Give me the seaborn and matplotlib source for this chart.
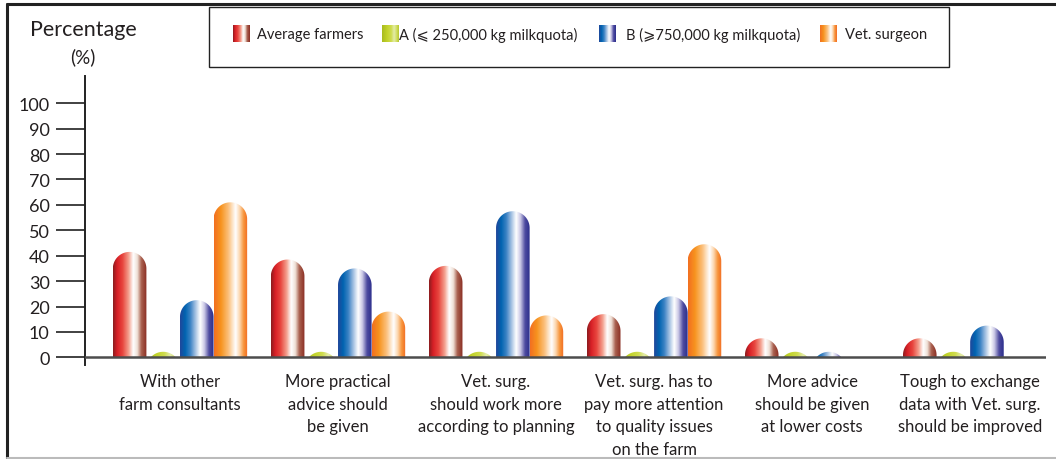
import numpy as np
import pandas as pd
import matplotlib
matplotlib.use("Agg")
import matplotlib.pyplot as plt
import seaborn as sns
from matplotlib.colors import LinearSegmentedColormap
from matplotlib.patches import PathPatch, Rectangle
from matplotlib.path import Path
from matplotlib.lines import Line2D
from matplotlib import font_manager

# ---- data -------------------------------------------------------------
categories = [
    "With other\nfarm consultants",
    "More practical\nadvice should\nbe given",
    "Vet. surg.\nshould work more\naccording to planning",
    "Vet. surg. has to\npay more attention\nto quality issues\non the farm",
    "More advice\nshould be given\nat lower costs",
    "Tough to exchange\ndata with Vet. surg.\nshould be improved",
]
groups = [
    "Average farmers",
    "A (\u2a7d 250,000 kg milkquota)",
    "B (\u2a7e750,000 kg milkquota)",
    "Vet. surgeon",
]
avg_farmers = [41.5, 38.5, 36, 17, 7.5, 7.5]
group_a = [2.2, 2.2, 2.2, 2.2, 2.2, 2.2]
group_b = [22.5, 35, 57.5, 24, 2.2, 12.5]
vet_surgeon = [61, 18, 16.5, 44.5, 0, 0]
y_ticks = list(range(0, 101, 10))

df = pd.DataFrame({
    "category": np.repeat(categories, len(groups)),
    "group": groups * len(categories),
    "value": np.ravel(np.column_stack([avg_farmers, group_a, group_b, vet_surgeon])),
})

# ---- cylinder-like gradients (left -> right) ----------------------------
gradients = {
    groups[0]: [(0.00, "#8b1d1f"), (0.12, "#d81f26"), (0.28, "#e8453e"), (0.46, "#f4a08e"),
                (0.60, "#ffffff"), (0.72, "#efe0d6"), (0.84, "#a9604f"), (1.00, "#8a2d22")],
    groups[1]: [(0.00, "#a8ba20"), (0.30, "#c2d32a"), (0.55, "#cfdc50"), (0.72, "#e4ecaa"),
                (0.88, "#cfdc5a"), (1.00, "#b5c52c")],
    groups[2]: [(0.00, "#21479b"), (0.15, "#0064b0"), (0.30, "#3b82c4"), (0.46, "#a9c4e4"),
                (0.60, "#ffffff"), (0.72, "#cbc9e6"), (0.86, "#4e4ba0"), (1.00, "#2b2e8c")],
    groups[3]: [(0.00, "#f26f21"), (0.20, "#f7931e"), (0.42, "#fbbf7a"), (0.64, "#ffffff"),
                (0.76, "#fcd7b0"), (0.88, "#f7943a"), (1.00, "#f26b22")],
}
cmaps = {g: LinearSegmentedColormap.from_list(g, stops) for g, stops in gradients.items()}


def strip(cmap, n=128):
    return cmap(np.linspace(0, 1, n))[None, :, :3]


# ---- fonts --------------------------------------------------------------
sns.set_theme(style="white")
installed = {f.name for f in font_manager.fontManager.ttflist}
narrow = "Liberation Sans Narrow" if "Liberation Sans Narrow" in installed else "Lato"
plt.rcParams["font.family"] = ["Lato", "DejaVu Sans"]
narrow_family = [narrow, "DejaVu Sans"]
text_color = "#231f20"

# ---- figure -------------------------------------------------------------
W, H = 1056, 460
fig = plt.figure(figsize=(W / 100, H / 100), dpi=100)
fig.patch.set_facecolor("white")

ax = fig.add_axes([85 / W, 1 - 366 / H, (1046 - 85) / W, (366 - 77) / H], zorder=2)
ax.set_facecolor("none")

sns.barplot(data=df, x="category", y="value", hue="group", order=categories,
            hue_order=groups, width=0.85, errorbar=None, legend=False,
            saturation=1, ax=ax)

XLIM = (-0.601, 5.48)
YLIM = (-3, 110.7)
ax.set_xlim(*XLIM)
ax.set_ylim(*YLIM)

p0, px, py = ax.transData.transform([(0, 0), (1, 0), (0, 1)])
ppu_x = px[0] - p0[0]
ppu_y = py[1] - p0[1]

# replace each flat bar by a gradient capsule with a rounded top
for g, container in zip(groups, ax.containers):
    for bar in container:
        bar.set_visible(False)
        x0, w, h = bar.get_x(), bar.get_width(), bar.get_height()
        if h <= 0:
            continue
        rx = w / 2
        ry = (w * ppu_x / 2) / ppu_y
        xc, cy = x0 + rx, h - ry
        bottom = min(0.0, cy) - 1
        t = np.linspace(np.pi, 0, 60)
        verts = [(x0, bottom), (x0, cy)]
        verts += list(zip(xc + rx * np.cos(t), cy + ry * np.sin(t)))
        verts += [(x0 + w, bottom), (x0, bottom)]
        codes = [Path.MOVETO] + [Path.LINETO] * (len(verts) - 2) + [Path.CLOSEPOLY]
        clip = PathPatch(Path(verts, codes), transform=ax.transData,
                         facecolor="none", edgecolor="none")
        im = ax.imshow(strip(cmaps[g]), extent=[x0, x0 + w, 0, h], aspect="auto",
                       interpolation="bilinear", zorder=2)
        im.set_clip_path(clip)

ax.set_xlim(*XLIM)
ax.set_ylim(*YLIM)
ax.set_autoscale_on(False)

ax.axhline(0, color="#4d4d4d", lw=1.8, zorder=3)

ax.set_yticks(y_ticks)
ax.set_yticklabels([str(v) for v in y_ticks])
ax.tick_params(axis="y", left=True, direction="out", length=21, width=1.3,
               color="#333333", pad=4.5, labelsize=13, labelcolor=text_color)
ax.set_xticks(range(len(categories)))
ax.set_xticklabels(categories, linespacing=1.5, fontsize=12,
                   family=narrow_family, color=text_color)
ax.tick_params(axis="x", length=0, pad=6)
ax.set_xlabel("")
ax.set_ylabel("")
for side in ("top", "right", "bottom"):
    ax.spines[side].set_visible(False)
ax.spines["left"].set_color("#222222")
ax.spines["left"].set_linewidth(1.4)

# ---- overlay in pixel units: frame, axis title, legend -------------------
ov = fig.add_axes([0, 0, 1, 1], zorder=1)
ov.set_xlim(0, W)
ov.set_ylim(H, 0)
ov.axis("off")

ov.add_line(Line2D([7, W], [5, 5], lw=2.2, color="#222222"))
ov.add_line(Line2D([7, 7], [5, 459], lw=2.2, color="#222222"))
ov.add_line(Line2D([7, W], [459, 459], lw=1.5, color="#bbbbbb"))

ov.text(83, 30, "Percentage", ha="center", va="center", fontsize=15.5, color=text_color)
ov.text(83, 57, "(%)", ha="center", va="center", fontsize=13.5, color=text_color)

ov.add_patch(Rectangle((209, 8), 740, 60, fill=False, ec="#222222", lw=1))
handle_x = [233, 382, 599, 820]
label_x = [257, 399, 626, 845]
for g, hx, lx in zip(groups, handle_x, label_x):
    ov.imshow(strip(cmaps[g]), extent=[hx, hx + 17, 43, 26], aspect="auto",
              interpolation="bilinear")
    ov.text(lx, 35, g, ha="left", va="center", fontsize=10.5,
            family=narrow_family, color=text_color)
ov.set_xlim(0, W)
ov.set_ylim(H, 0)

fig.savefig("out.png", dpi=100, facecolor="white")
